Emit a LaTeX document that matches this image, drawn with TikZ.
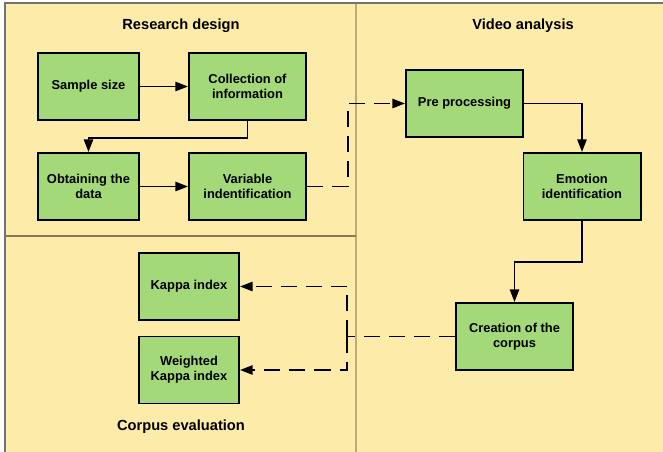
\documentclass[tikz,border=0pt]{standalone}
\usepackage{fontspec}
\setmainfont{Liberation Sans}
\usepackage{tikz}
\usetikzlibrary{arrows.meta,positioning,calc}

\definecolor{paneyellow}{HTML}{FDEBA9}
\definecolor{boxgreen}{HTML}{A4D97A}
\definecolor{paneline}{HTML}{BCAC7C}

\begin{document}
\begin{tikzpicture}[x=0.03cm, y=-0.03cm, >={Triangle[length=3.8mm,width=2.8mm]},
    font=\bfseries\fontsize{11}{13}\selectfont,
    stage/.style={draw, line width=1.7pt, fill=boxgreen, align=center,
      minimum width=3.51cm, minimum height=2.01cm, inner sep=2pt},
    narrow/.style={stage, minimum width=3.03cm},
    flow/.style={->, line width=1.4pt},
    link/.style={->, line width=1.4pt, dash pattern=on 4.8mm off 2.7mm},
    panetitle/.style={font=\bfseries\fontsize{12.5}{15}\selectfont}]
  \useasboundingbox (0,0) rectangle (663,452);
  % panes
  \fill[paneyellow] (5,3) rectangle (663,452);
  \draw[paneline, line width=1.5pt] (356,3) -- (356,452);
  \draw[paneline!70!black, line width=1.3pt] (5,236) -- (356,236);
  \draw[black!55, line width=1.4pt] (5,452) -- (5,3) -- (663,3);
  \node[panetitle] (design) at (181,26) {Research design};
  \node[panetitle] (video) at (523,26) {Video analysis};
  \node[panetitle] (evaluation) at (181,427) {Corpus evaluation};
  % research design
  \node[narrow] (size) at (88.5,86.5) {Sample size};
  \node[stage] (collect) at (247.5,86.5) {Collection of\\information};
  \node[narrow] (obtain) at (88.5,186.5) {Obtaining the\\data};
  \node[stage] (variable) at (247.5,186.5) {Variable\\indentification};
  % video analysis
  \node[stage] (preproc) at (464.5,103.5) {Pre processing};
  \node[stage] (emotion) at (582,186.5) {Emotion\\identification};
  \node[stage] (corpus) at (514.5,336.5) {Creation of the\\corpus};
  % corpus evaluation
  \node[narrow, minimum width=3.0cm] (kappa) at (189,286.5) {Kappa index};
  \node[narrow, minimum width=3.0cm] (wkappa) at (189,370) {Weighted\\Kappa index};
  % arrows
  \draw[flow] (size) -- (collect);
  \draw[flow] (collect.south) -- ++(0,17) -| (obtain.north);
  \draw[flow] (obtain) -- (variable);
  \draw[link] (variable.east) -- ++(41,0) |- (preproc.west);
  \draw[flow] (preproc.east) -| (emotion.north);
  \draw[flow] (emotion.south) -- ++(0,41) -| (corpus.north);
  \coordinate (split) at (347,336.5);
  \draw[link, -] (corpus.west) -- (split);
  \draw[link] (split) |- (kappa.east);
  \draw[link] (split) |- (wkappa.east);
\end{tikzpicture}
\end{document}
